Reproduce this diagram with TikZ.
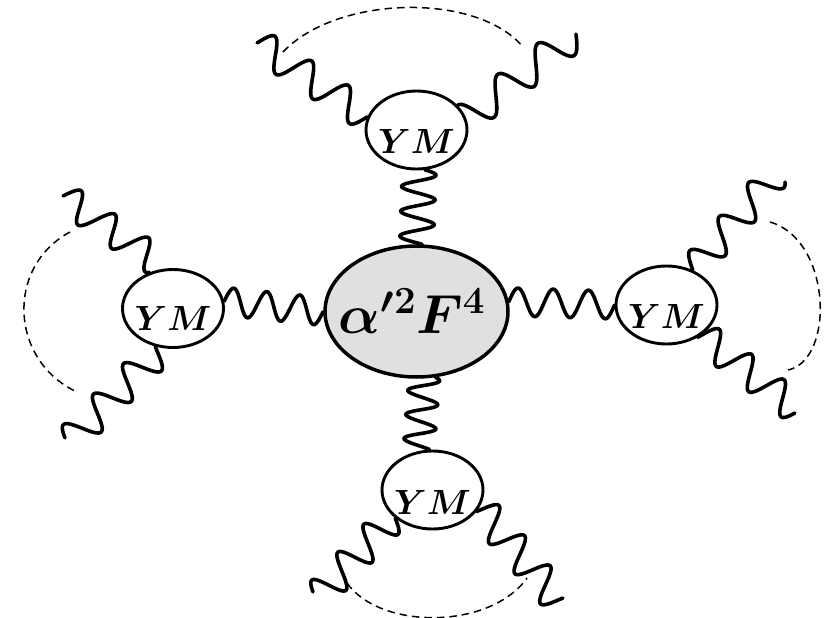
\documentclass[tikz,border=0pt]{standalone}
\usepackage{fix-cm}
\usetikzlibrary{shapes.geometric,calc}
\definecolor{blobgray}{RGB}{224,224,224}
\begin{document}
\begin{tikzpicture}[x=1pt,y=-1pt,
  ymbox/.style={draw,ellipse,line width=2.9pt,minimum width=101pt,minimum height=78pt,inner sep=0pt},
  ymlabel/.style={font=\fontsize{35}{40}\selectfont\boldmath,inner sep=0pt},
  blob/.style={draw,ellipse,line width=3.5pt,fill=blobgray,minimum width=183pt,minimum height=131pt,inner sep=0pt},
  wline/.style={line width=3.6pt,line cap=round,line join=round},
  wave/.style n args={3}{to path={
    let \p1=(\tikztostart), \p2=(\tikztotarget), \n1={veclen(\x2-\x1,\y2-\y1)} in
    plot[variable=\t, domain=0:1, samples=160]
     ({\x1+(\x2-\x1)*\t-(#2)*(sin(360*(#1)*\t+(#3))-(1-\t)*sin(#3)-\t*sin(360*(#1)+(#3)))*(\y2-\y1)/\n1},
      {\y1+(\y2-\y1)*\t+(#2)*(sin(360*(#1)*\t+(#3))-(1-\t)*sin(#3)-\t*sin(360*(#1)+(#3)))*(\x2-\x1)/\n1})
  }},
  dashedarc/.style={line width=1.5pt,dash pattern=on 7.5pt off 5pt}
]
\useasboundingbox (0,0) rectangle (825,618);

% central blob
\node[blob] (C) at (416.5,311.5) {};
\node[font=\fontsize{55}{62}\selectfont\boldmath,inner sep=0pt] (Ct) at (412,311) {$\alpha'^2F^4$};

% YM vertices
\node[ymbox] (T) at (416.5,130) {};
\node[ymbox] (L) at (173,308.5) {};
\node[ymbox] (R) at (666.5,305) {};
\node[ymbox] (B) at (432.5,490) {};
\node[ymlabel] (Tt) at ([yshift=-11pt]T.center) {$YM$};
\node[ymlabel] (Lt) at ([yshift=-10pt]L.center) {$YM$};
\node[ymlabel] (Rt) at ([yshift=-11pt]R.center) {$YM$};
\node[ymlabel] (Bt) at ([yshift=-12pt]B.center) {$YM$};

% connectors to the blob
\draw[wline] (L.8) to[wave={3}{14}{0}] (C.west);
\draw[wline] (C.6) to[wave={3}{14}{0}] (R.west);
\draw[wline] (T.282) to[wave={3}{17}{20}] (C.85);
\draw[wline] (C.286) to[wave={3}{15.5}{45}] (B.94);

% external legs
\coordinate (tl) at (257,43);
\coordinate (tr) at (576,34);
\coordinate (lu) at (63,196);
\coordinate (ll) at (65,438);
\coordinate (ru) at (785,182);
\coordinate (rl) at (795,413);
\coordinate (bl) at (313,592);
\coordinate (br) at (563,598);

\draw[wline] (T.165) to[wave={3}{15.5}{0}] (tl);
\draw[wline] (T.31) to[wave={2.75}{16}{90}] (tr);
\draw[wline] (L.123) to[wave={2.83}{15}{60}] (lu);
\draw[wline] (L.245) to[wave={3}{16}{-20}] (ll);
\draw[wline] (R.53) to[wave={2.85}{15}{0}] (ru);
\draw[wline] (R.314) to[wave={3}{15.5}{-15}] (rl);
\draw[wline] (B.217) to[wave={2.9}{16}{10}] (bl);
\draw[wline] (B.334) to[wave={3.1}{16}{-18}] (br);

% dashed arcs
\coordinate (td1) at (283,52);
\coordinate (td2) at (523,47);
\coordinate (ld1) at (70,232);
\coordinate (ld2) at (77,392);
\coordinate (rd1) at (770,222);
\coordinate (rd2) at (788,370);
\coordinate (bd1) at (347,583);
\coordinate (bd2) at (527,578);
\draw[dashedarc] (td1) .. controls (337,-5) and (477,-8) .. (td2);
\draw[dashedarc] (ld1) .. controls (5,267) and (10,361) .. (ld2);
\draw[dashedarc] (rd1) .. controls (832,240) and (835,360) .. (rd2);
\draw[dashedarc] (bd1) .. controls (380,630) and (490,630) .. (bd2);
\end{tikzpicture}
\end{document}
